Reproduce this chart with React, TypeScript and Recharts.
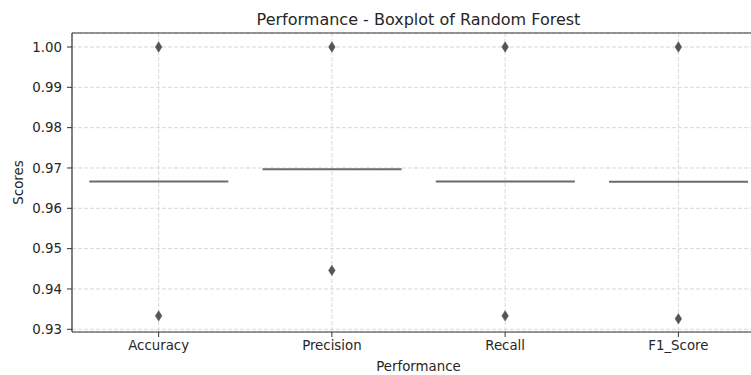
import React from 'react';
import { ComposedChart, XAxis, YAxis, CartesianGrid, Bar, Scatter, ReferenceLine } from 'recharts';

const categories = ['Accuracy', 'Precision', 'Recall', 'F1_Score'];
const q1Values = [0.96667, 0.9697, 0.96667, 0.9666];
const medianValues = [0.96667, 0.9697, 0.96667, 0.9666];
const q3Values = [0.96667, 0.9697, 0.96667, 0.9666];
const highOutliers = [1.0, 1.0, 1.0, 1.0];
const lowOutliers = [0.93333, 0.9446, 0.93333, 0.9326];
const yTicks = [0.93, 0.94, 0.95, 0.96, 0.97, 0.98, 0.99, 1.0];
const yDomain = [0.92933, 1.00347];
const title = 'Performance - Boxplot of Random Forest';

const rows = categories.map((name, i) => ({
  name,
  box: [q1Values[i], q3Values[i]],
  median: medianValues[i],
  high: highOutliers[i],
  low: lowOutliers[i],
}));

const FONT = '"DejaVu Sans", sans-serif';
const TEXT = '#262626';
const AXIS = '#333333';

const BoxShape = (props: any) => {
  const { x, y, width, height } = props;
  if (x == null || y == null) return null;
  return (
    <g>
      <rect x={x} y={y} width={width} height={Math.max(0, height || 0)} fill="#808080" stroke="#6b6b6b" strokeWidth={1.5} />
      <line x1={x} x2={x + width} y1={y} y2={y} stroke="#6b6b6b" strokeWidth={2} />
    </g>
  );
};

const Diamond = (props: any) => {
  const { cx, cy } = props;
  if (cx == null || cy == null) return null;
  return <path d={`M${cx},${cy - 5.2} L${cx + 3.3},${cy} L${cx},${cy + 5.2} L${cx - 3.3},${cy} Z`} fill="#555555" stroke="#555555" strokeWidth={0.5} />;
};

export default function App() {
  return (
    <div style={{ position: 'fixed', left: 0, top: 0, width: 751, height: 375, overflow: 'hidden', background: '#fff' }}>
      <ComposedChart
        width={800}
        height={375}
        data={rows}
        margin={{ top: 33, right: 35, bottom: 0, left: 0 }}
        barCategoryGap="10%"
      >
        <CartesianGrid stroke="#d4d4d4" strokeDasharray="4 2" strokeWidth={0.9} />
        <XAxis
          dataKey="name"
          type="category"
          height={43}
          tickSize={5}
          tickMargin={4}
          tick={{ fill: TEXT, fontSize: 13.33, fontFamily: FONT }}
          tickLine={{ stroke: AXIS }}
          axisLine={{ stroke: AXIS, strokeWidth: 1.2 }}
          label={{
            content: ({ viewBox }: any) => (
              <text x={viewBox.x + viewBox.width / 2} y={viewBox.y + 38.5} textAnchor="middle" fill={TEXT} fontSize={13.33} fontFamily={FONT}>
                Performance
              </text>
            ),
          }}
        />
        <YAxis
          type="number"
          domain={yDomain}
          allowDataOverflow
          ticks={yTicks}
          interval={0}
          width={72}
          tickSize={5}
          tickMargin={5}
          tickFormatter={(v: number) => v.toFixed(2)}
          tick={{ fill: TEXT, fontSize: 13.33, fontFamily: FONT }}
          tickLine={{ stroke: AXIS }}
          axisLine={{ stroke: AXIS, strokeWidth: 1.2 }}
          label={{
            content: ({ viewBox }: any) => (
              <text
                x={viewBox.x + 23}
                y={viewBox.y + viewBox.height / 2}
                textAnchor="middle"
                fill={TEXT}
                fontSize={13.33}
                fontFamily={FONT}
                transform={`rotate(-90 ${viewBox.x + 23} ${viewBox.y + viewBox.height / 2})`}
              >
                Scores
              </text>
            ),
          }}
        />
        <ReferenceLine y={yDomain[1]} stroke={AXIS} strokeWidth={1.2} ifOverflow="visible" />
        <Bar dataKey="box" isAnimationActive={false} shape={<BoxShape />} />
        <Scatter dataKey="high" isAnimationActive={false} shape={<Diamond />} />
        <Scatter dataKey="low" isAnimationActive={false} shape={<Diamond />} />
      </ComposedChart>
      <svg width={800} height={40} style={{ position: 'absolute', left: 0, top: 0, pointerEvents: 'none' }}>
        <text x={418.5} y={24.5} textAnchor="middle" fill={TEXT} fontSize={16} fontFamily={FONT}>
          {title}
        </text>
      </svg>
    </div>
  );
}
